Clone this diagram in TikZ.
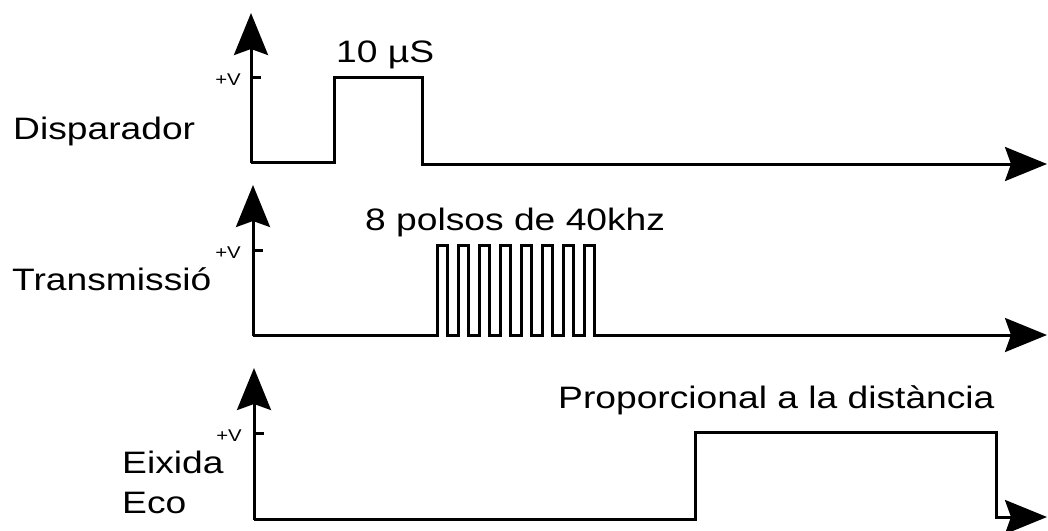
\documentclass[tikz,border=0pt]{standalone}
\usepackage{fontspec}
\setmainfont[FakeStretch=1.2]{Liberation Sans}
\usetikzlibrary{arrows.meta}
\tikzset{
  sig/.style={line width=3pt},
  axis/.style={line width=3pt,-{Stealth[length=42pt,width=34pt,inset=6pt]}},
  lbl/.style={anchor=base west,inner sep=0pt,font=\fontsize{31}{36}\selectfont},
  vlbl/.style={anchor=base east,inner sep=0pt,font=\fontsize{17}{19}\selectfont}
}
\begin{document}
\begin{tikzpicture}[x=1pt,y=-1pt]
\useasboundingbox (0,0) rectangle (1048,530);
% disparador
\draw[axis] (251,163) -- (251,13);
\draw[axis] (251,162) -- (334,162) -- (334,77) -- (422,77) -- (422,164) -- (1047,164);
\draw[sig] (251,77) -- (261,77);
\node[vlbl] (v1) at (241,85) {+V};
\node[lbl] (trig) at (13,139) {Disparador};
\node[lbl] (trigw) at (336,62) {10 µS};
% transmissio
\draw[axis] (253,336) -- (253,185);
\draw[axis] (253,335) -- (437,335)
  \foreach \k in {0,...,7} { -- ++(0,-90) -- ++(10,0) -- ++(0,90) -- ++(11.1,0) }
  -- (1047,335);
\draw[sig] (253,250) -- (263,250);
\node[vlbl] (v2) at (241,258) {+V};
\node[lbl] (trans) at (12,290) {Transmissió};
\node[lbl] (burst) at (365,230) {8 polsos de 40khz};
% eco
\draw[axis] (254,520) -- (254,368);
\draw[axis] (254,519) -- (695,519) -- (695,432) -- (996,432) -- (996,517) -- (1047,517);
\draw[sig] (254,433) -- (264,433);
\node[vlbl] (v3) at (242,441) {+V};
\node[lbl] (echo1) at (122,473) {Eixida};
\node[lbl] (echo2) at (122,513) {Eco};
\node[lbl] (dist) at (558,408) {Proporcional a la distància};
\end{tikzpicture}
\end{document}
